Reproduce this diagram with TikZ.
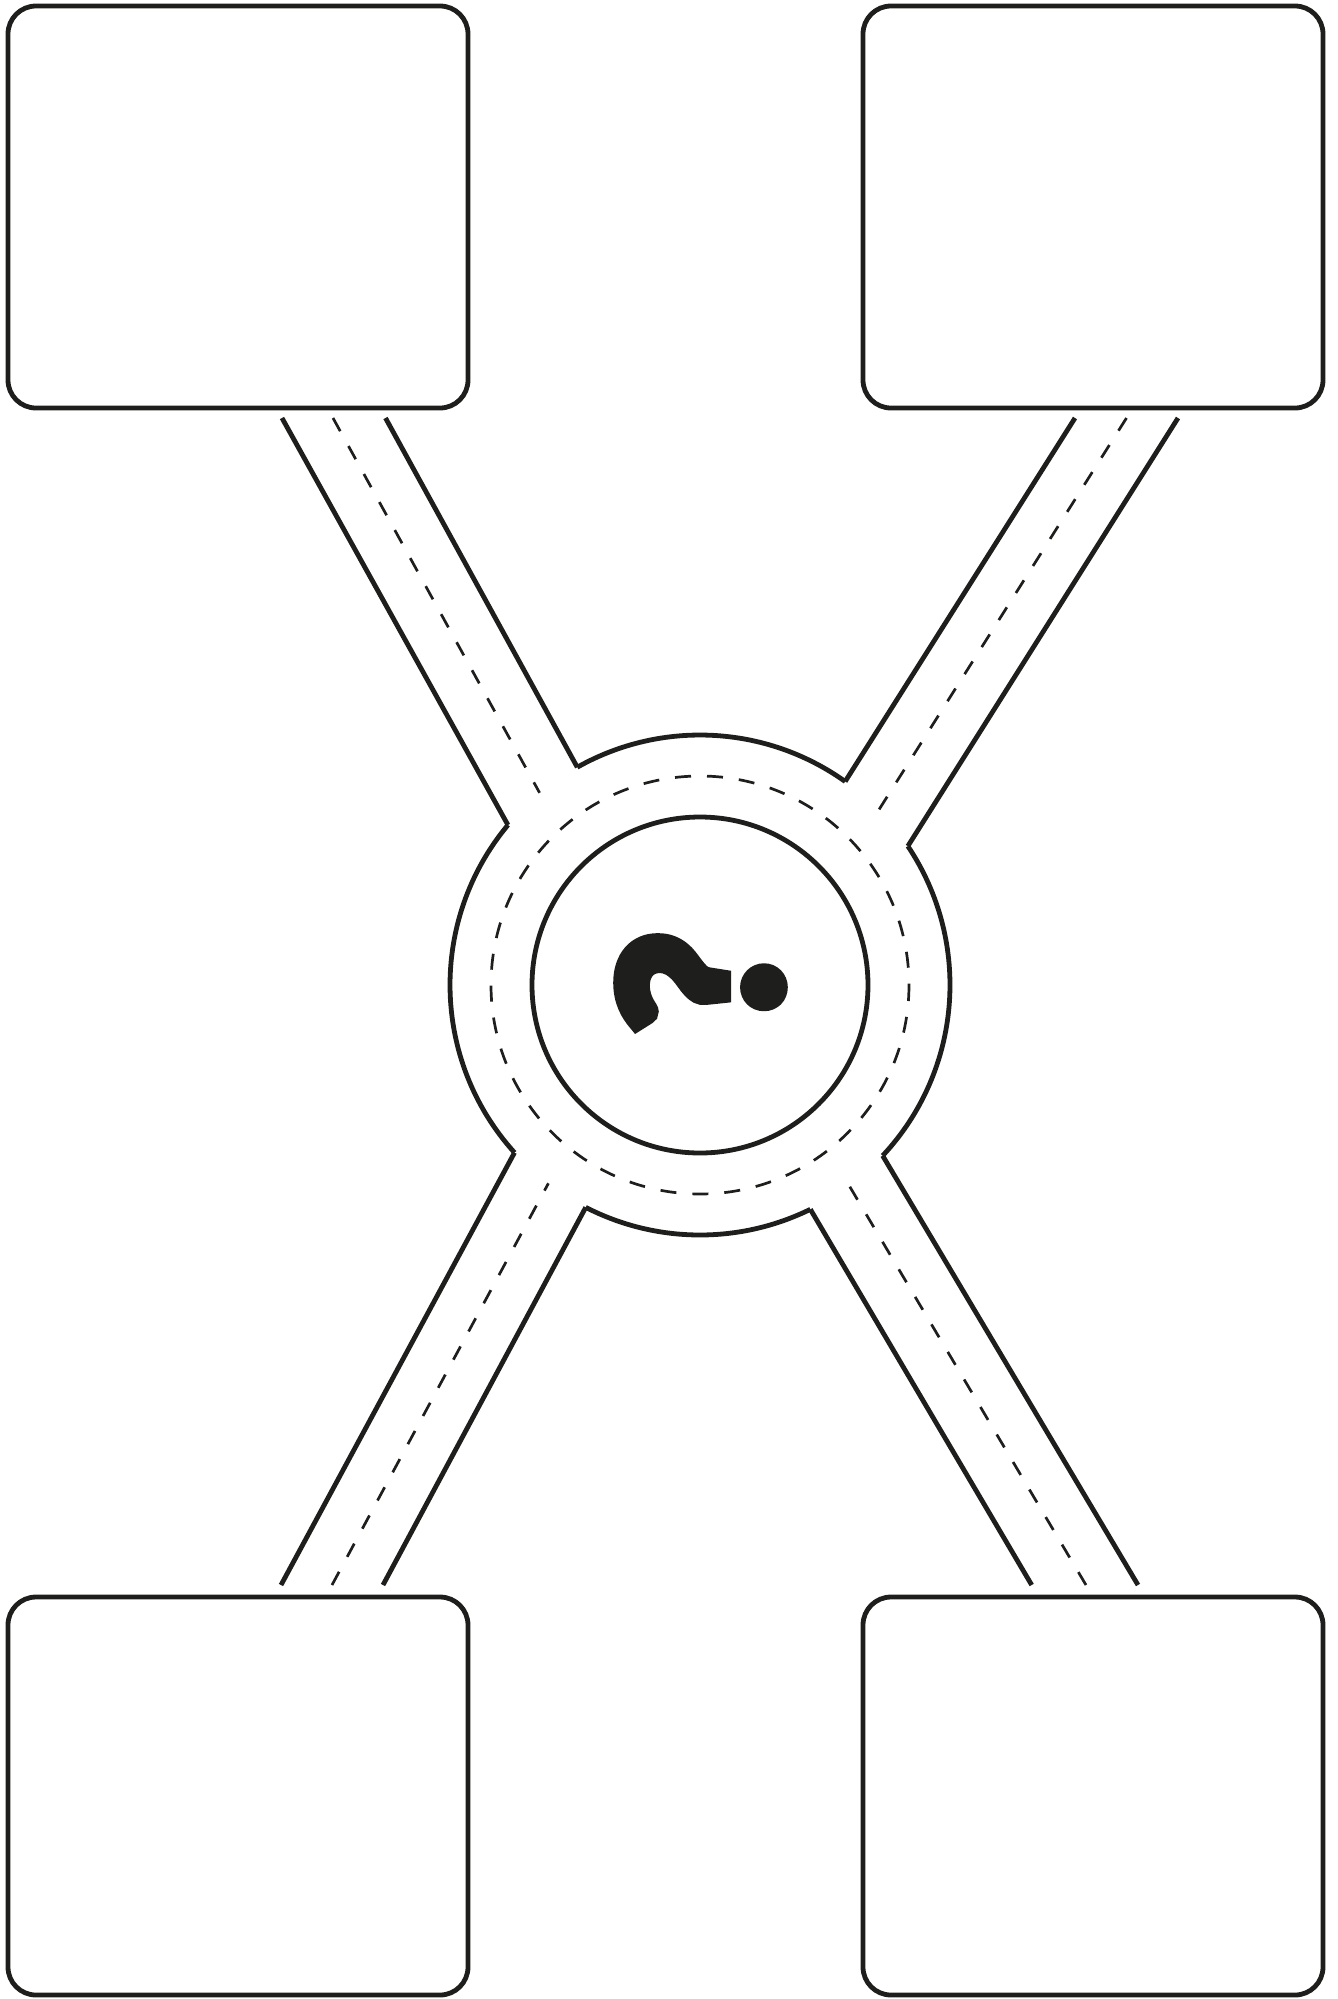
\documentclass[tikz,border=0pt]{standalone}
\usepackage{fontspec}
\newfontfamily\qfont{Lato}[BoldFeatures={FakeBold=7}]
\definecolor{ink}{RGB}{30,30,28}
\begin{document}
\begin{tikzpicture}[x=0.5pt,y=-0.5pt,
  edge/.style={draw=ink, line width=2.4pt},
  box/.style={draw=ink, line width=2.4pt, rounded corners=14pt, minimum width=230pt, inner sep=0pt, outer sep=0pt},
  lane/.style={draw=ink, line width=1.35pt, dash pattern=on 7.5pt off 8.5pt},
  ring/.style={draw=ink, line width=1.35pt, dash pattern=on 8pt off 8pt}]
\useasboundingbox (0,0) rectangle (1338,1999);
% boxes
\node[box, minimum height=201pt] (tl) at (238,207) {};
\node[box, minimum height=201pt] (tr) at (1093,207) {};
\node[box, minimum height=199pt] (bl) at (238,1796) {};
\node[box, minimum height=199pt] (br) at (1093,1796) {};
% hub
\coordinate (c) at (700,985);
\node[circle, draw=ink, line width=2.4pt, minimum size=168pt, inner sep=0pt] (hub) at (c) {};
\draw[ring] (c) circle[radius=209];
% road corners on the outer ring
\path (c) ++(219.8:250) coordinate (tlA);
\path (c) ++(240.6:250) coordinate (tlB);
\path (c) ++(305.5:250) coordinate (trA);
\path (c) ++(326.25:250) coordinate (trB);
\path (c) ++(43.06:250) coordinate (brB);
\path (c) ++(63.8:250) coordinate (brA);
\path (c) ++(117.2:250) coordinate (blB);
\path (c) ++(137.9:250) coordinate (blA);
% outer ring arcs
\draw[edge] (tlB) arc[start angle=240.6, end angle=305.5, radius=250];
\draw[edge] (trB) arc[start angle=326.25, end angle=403.06, radius=250];
\draw[edge] (brA) arc[start angle=63.8, end angle=117.2, radius=250];
\draw[edge] (blA) arc[start angle=137.9, end angle=219.8, radius=250];
% road ends at boxes
\coordinate (tl1) at (282,418);  \coordinate (tl2) at (385.5,418); \coordinate (tlm) at (333,418);
\coordinate (tr1) at (1075,418); \coordinate (tr2) at (1178,418);  \coordinate (trm) at (1126.5,418);
\coordinate (bl1) at (281,1585); \coordinate (bl2) at (383,1585);  \coordinate (blm) at (332,1585);
\coordinate (br1) at (1031.7,1585); \coordinate (br2) at (1138,1585); \coordinate (brm) at (1086,1585);
\coordinate (tle) at (539.6,792.8);
\coordinate (tre) at (878.5,810.4);
\coordinate (ble) at (548.4,1183.3);
\coordinate (bre) at (849.1,1185.5);
% road edges
\draw[edge] (tl1) -- (tlA);
\draw[edge] (tl2) -- (tlB);
\draw[edge] (tr1) -- (trA);
\draw[edge] (tr2) -- (trB);
\draw[edge] (bl1) -- (blA);
\draw[edge] (bl2) -- (blB);
\draw[edge] (br1) -- (brA);
\draw[edge] (br2) -- (brB);
% lane markings
\draw[lane] (tlm) -- (tle);
\draw[lane] (trm) -- (tre);
\draw[lane] (blm) -- (ble);
\draw[lane] (brm) -- (bre);
% question mark
\node[rotate=90, text=ink, inner sep=0pt, font=\fontsize{108}{108}\selectfont\bfseries\qfont] (q) at (700.5,982) {?};
\end{tikzpicture}
\end{document}
